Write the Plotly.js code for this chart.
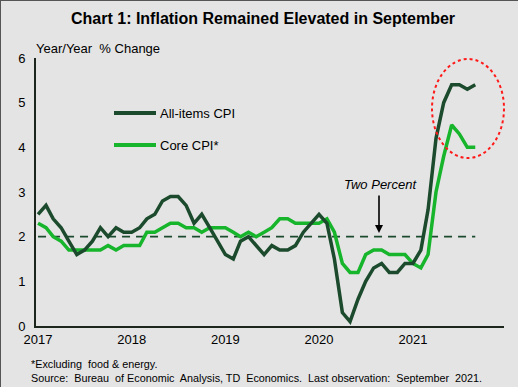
<!DOCTYPE html>
<html>
<head>
<meta charset="utf-8">
<script src="https://cdn.plot.ly/plotly-3.0.1.min.js"></script>
<style>
html,body{margin:0;padding:0;background:#e4e4e4;}
#chart{width:518px;height:387px;box-sizing:border-box;border-left:1px solid #555;border-top:1px solid #555;}
</style>
</head>
<body>
<div id="chart"></div>
<script>
// Monthly data, Jan 2017 - Sep 2021
var startYear = 2017;
var allItemsCPI = [
  2.5, 2.7, 2.4, 2.2, 1.9, 1.6, 1.7, 1.9, 2.2, 2.0, 2.2, 2.1,
  2.1, 2.2, 2.4, 2.5, 2.8, 2.9, 2.9, 2.7, 2.3, 2.5, 2.2, 1.9,
  1.6, 1.5, 1.9, 2.0, 1.8, 1.6, 1.8, 1.7, 1.7, 1.8, 2.1, 2.3,
  2.5, 2.3, 1.5, 0.3, 0.1, 0.6, 1.0, 1.3, 1.4, 1.2, 1.2, 1.4,
  1.4, 1.7, 2.6, 4.2, 5.0, 5.4, 5.4, 5.3, 5.4
];
var coreCPI = [
  2.3, 2.2, 2.0, 1.9, 1.7, 1.7, 1.7, 1.7, 1.7, 1.8, 1.7, 1.8,
  1.8, 1.8, 2.1, 2.1, 2.2, 2.3, 2.3, 2.2, 2.2, 2.1, 2.2, 2.2,
  2.2, 2.1, 2.0, 2.1, 2.0, 2.1, 2.2, 2.4, 2.4, 2.3, 2.3, 2.3,
  2.3, 2.4, 2.1, 1.4, 1.2, 1.2, 1.6, 1.7, 1.7, 1.6, 1.6, 1.6,
  1.4, 1.3, 1.6, 3.0, 3.8, 4.5, 4.3, 4.0, 4.0
];
var tickYears = ['2017', '2018', '2019', '2020', '2021'];
var yTicks = [0, 1, 2, 3, 4, 5, 6];
var targetRate = 2;

function pad(n){ return (n < 10 ? '0' : '') + n; }
var dates = allItemsCPI.map(function(_, i){
  var y = startYear + Math.floor(i / 12);
  var m = (i % 12) + 1;
  return y + '-' + pad(m) + '-01';
});
var tickDates = tickYears.map(function(y){ return y + '-01-01'; });

var darkGreen = '#1b4a2c';
var brightGreen = '#17b52b';
var axisColor = '#1c261c';
var font = 'Liberation Sans, Arial, sans-serif';

var traces = [
  {x: dates, y: coreCPI, type: 'scatter', mode: 'lines', name: 'Core CPI*',
   line: {color: brightGreen, width: 3.5}, hoverinfo: 'skip'},
  {x: dates, y: allItemsCPI, type: 'scatter', mode: 'lines', name: 'All-items CPI',
   line: {color: darkGreen, width: 3.5}, hoverinfo: 'skip'}
];

function px2x(px){ return (px - 35) / 468; }
function px2y(py){ return (325 - py) / 268; }

var layout = {
  width: 518, height: 387,
  margin: {l: 35, r: 15, t: 57, b: 62},
  paper_bgcolor: '#e4e4e4',
  plot_bgcolor: '#e4e4e4',
  showlegend: false,
  font: {family: font, size: 13, color: '#000'},
  xaxis: {
    type: 'date',
    range: ['2016-12-24', '2021-12-22'],
    tickvals: tickDates, ticktext: tickYears,
    showgrid: false, zeroline: false,
    showline: true, linecolor: axisColor, linewidth: 2,
    ticks: '', tickfont: {size: 13, family: font, color: '#000'}
  },
  yaxis: {
    range: [0, 6], tickvals: yTicks,
    showgrid: false, zeroline: false,
    showline: true, linecolor: axisColor, linewidth: 2,
    ticks: '', ticklabelstandoff: 6,
    tickfont: {size: 13, family: font, color: '#000'}
  },
  shapes: [
    {type: 'line', xref: 'x', yref: 'y', x0: dates[0], x1: dates[dates.length - 1],
     y0: targetRate, y1: targetRate, line: {color: darkGreen, width: 1.8, dash: '8px,6px'}, layer: 'below'},
    {type: 'circle', xref: 'paper', yref: 'paper',
     x0: px2x(431), x1: px2x(503), y0: px2y(157), y1: px2y(58),
     line: {color: '#ff1a1a', width: 2, dash: 'dot'}},
    {type: 'line', xref: 'paper', yref: 'paper', x0: px2x(113), x1: px2x(155),
     y0: px2y(112), y1: px2y(112), line: {color: darkGreen, width: 4}},
    {type: 'line', xref: 'paper', yref: 'paper', x0: px2x(113), x1: px2x(155),
     y0: px2y(144), y1: px2y(144), line: {color: brightGreen, width: 4}}
  ],
  annotations: [
    {xref: 'paper', yref: 'paper', x: px2x(262), y: px2y(17), text: '<b>Chart 1: Inflation Remained Elevated in September</b>',
     showarrow: false, xanchor: 'center', yanchor: 'middle', font: {size: 16, family: font, color: '#000'}},
    {xref: 'paper', yref: 'paper', x: px2x(33), y: px2y(47), text: 'Year/Year  % Change',
     showarrow: false, xanchor: 'left', yanchor: 'middle', font: {size: 13, family: font, color: '#000'}},
    {xref: 'paper', yref: 'paper', x: px2x(157), y: px2y(112), text: 'All-items CPI',
     showarrow: false, xanchor: 'left', yanchor: 'middle', font: {size: 13, family: font, color: '#000'}},
    {xref: 'paper', yref: 'paper', x: px2x(157), y: px2y(144), text: 'Core CPI*',
     showarrow: false, xanchor: 'left', yanchor: 'middle', font: {size: 13, family: font, color: '#000'}},
    {xref: 'paper', yref: 'paper', x: px2x(379), y: px2y(183), text: '<i>Two Percent</i>',
     showarrow: false, xanchor: 'center', yanchor: 'middle', font: {size: 13, family: font, color: '#000'}},
    {xref: 'paper', yref: 'paper', x: px2x(378), y: px2y(232), text: '', showarrow: true,
     ax: 0, ay: -39, arrowhead: 2, arrowsize: 1, arrowwidth: 1.6, arrowcolor: '#000'},
    {xref: 'paper', yref: 'paper', x: px2x(28), y: px2y(363), text: '*Excluding  food & energy.',
     showarrow: false, xanchor: 'left', yanchor: 'middle', font: {size: 10.8, family: font, color: '#000'}},
    {xref: 'paper', yref: 'paper', x: px2x(28), y: px2y(377),
     text: 'Source:  Bureau  of Economic  Analysis, TD  Economics.  Last observation:  September  2021.',
     showarrow: false, xanchor: 'left', yanchor: 'middle', font: {size: 10.8, family: font, color: '#000'}}
  ]
};

Plotly.newPlot('chart', traces, layout, {staticPlot: true, displayModeBar: false});
</script>
</body>
</html>
